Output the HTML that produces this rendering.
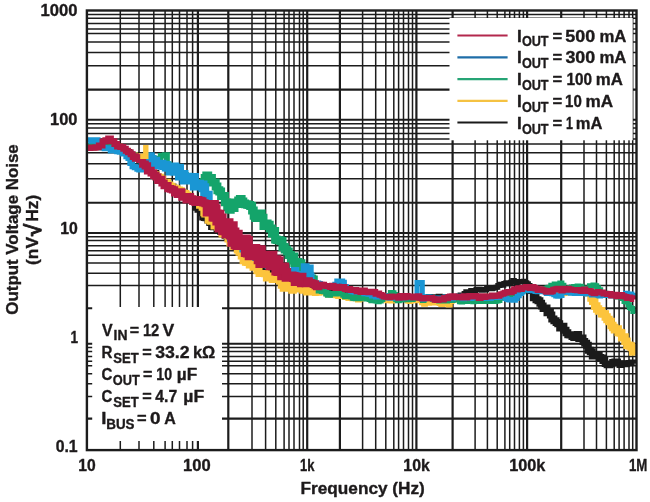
<!DOCTYPE html>
<html><head><meta charset="utf-8"><title>Output Voltage Noise</title>
<style>html,body{margin:0;padding:0;background:#fff}svg{display:block;will-change:transform}text{font-family:"Liberation Sans",Arial,sans-serif;font-weight:bold;fill:#1d1a1b;stroke:#1d1a1b;stroke-width:0.35px;stroke-linejoin:round}</style>
</head><body>
<svg width="650" height="502" viewBox="0 0 650 502">
<rect width="650" height="502" fill="#fff"/>
<g stroke="#1c1c1c" fill="none" shape-rendering="auto">
<line x1="86.9" x2="636.5" y1="14.60" y2="14.60" stroke-width="1.50"/>
<line x1="86.9" x2="636.5" y1="18.30" y2="18.30" stroke-width="1.50"/>
<line x1="86.9" x2="636.5" y1="23.50" y2="23.50" stroke-width="1.50"/>
<line x1="86.9" x2="636.5" y1="29.00" y2="29.00" stroke-width="1.50"/>
<line x1="86.9" x2="636.5" y1="33.60" y2="33.60" stroke-width="1.50"/>
<line x1="86.9" x2="636.5" y1="42.00" y2="42.00" stroke-width="1.50"/>
<line x1="86.9" x2="636.5" y1="52.40" y2="52.40" stroke-width="1.50"/>
<line x1="86.9" x2="636.5" y1="65.80" y2="65.80" stroke-width="1.50"/>
<line x1="86.9" x2="636.5" y1="89.60" y2="89.60" stroke-width="2.10"/>
<line x1="86.9" x2="636.5" y1="119.75" y2="119.75" stroke-width="2.10"/>
<line x1="86.9" x2="636.5" y1="123.80" y2="123.80" stroke-width="1.50"/>
<line x1="86.9" x2="636.5" y1="128.00" y2="128.00" stroke-width="1.50"/>
<line x1="86.9" x2="636.5" y1="133.40" y2="133.40" stroke-width="1.50"/>
<line x1="86.9" x2="636.5" y1="138.90" y2="138.90" stroke-width="1.50"/>
<line x1="86.9" x2="636.5" y1="143.90" y2="143.90" stroke-width="1.50"/>
<line x1="86.9" x2="636.5" y1="152.80" y2="152.80" stroke-width="1.50"/>
<line x1="86.9" x2="636.5" y1="163.80" y2="163.80" stroke-width="1.50"/>
<line x1="86.9" x2="636.5" y1="178.65" y2="178.65" stroke-width="1.50"/>
<line x1="86.9" x2="636.5" y1="202.80" y2="202.80" stroke-width="2.10"/>
<line x1="86.9" x2="636.5" y1="233.00" y2="233.00" stroke-width="2.10"/>
<line x1="86.9" x2="636.5" y1="236.80" y2="236.80" stroke-width="1.50"/>
<line x1="86.9" x2="636.5" y1="240.60" y2="240.60" stroke-width="1.50"/>
<line x1="86.9" x2="636.5" y1="245.80" y2="245.80" stroke-width="1.50"/>
<line x1="86.9" x2="636.5" y1="250.70" y2="250.70" stroke-width="1.50"/>
<line x1="86.9" x2="636.5" y1="255.30" y2="255.30" stroke-width="1.50"/>
<line x1="86.9" x2="636.5" y1="263.10" y2="263.10" stroke-width="1.50"/>
<line x1="86.9" x2="636.5" y1="273.30" y2="273.30" stroke-width="1.50"/>
<line x1="86.9" x2="636.5" y1="285.60" y2="285.60" stroke-width="1.50"/>
<line x1="86.9" x2="636.5" y1="308.20" y2="308.20" stroke-width="2.10"/>
<line x1="86.9" x2="636.5" y1="343.80" y2="343.80" stroke-width="2.10"/>
<line x1="86.9" x2="636.5" y1="347.50" y2="347.50" stroke-width="1.50"/>
<line x1="86.9" x2="636.5" y1="351.40" y2="351.40" stroke-width="1.50"/>
<line x1="86.9" x2="636.5" y1="356.40" y2="356.40" stroke-width="1.50"/>
<line x1="86.9" x2="636.5" y1="361.20" y2="361.20" stroke-width="1.50"/>
<line x1="86.9" x2="636.5" y1="365.80" y2="365.80" stroke-width="1.50"/>
<line x1="86.9" x2="636.5" y1="373.85" y2="373.85" stroke-width="1.50"/>
<line x1="86.9" x2="636.5" y1="383.70" y2="383.70" stroke-width="1.50"/>
<line x1="86.9" x2="636.5" y1="396.40" y2="396.40" stroke-width="1.50"/>
<line x1="86.9" x2="636.5" y1="418.60" y2="418.60" stroke-width="2.10"/>
<line x1="120.30" x2="120.30" y1="10.5" y2="450.1" stroke-width="1.50"/>
<line x1="139.00" x2="139.00" y1="10.5" y2="450.1" stroke-width="1.50"/>
<line x1="153.80" x2="153.80" y1="10.5" y2="450.1" stroke-width="1.50"/>
<line x1="165.10" x2="165.10" y1="10.5" y2="450.1" stroke-width="1.50"/>
<line x1="172.30" x2="172.30" y1="10.5" y2="450.1" stroke-width="1.50"/>
<line x1="179.50" x2="179.50" y1="10.5" y2="450.1" stroke-width="1.50"/>
<line x1="187.00" x2="187.00" y1="10.5" y2="450.1" stroke-width="1.50"/>
<line x1="192.60" x2="192.60" y1="10.5" y2="450.1" stroke-width="1.50"/>
<line x1="197.90" x2="197.90" y1="10.5" y2="450.1" stroke-width="2.20"/>
<line x1="228.30" x2="228.30" y1="10.5" y2="450.1" stroke-width="2.20"/>
<line x1="252.00" x2="252.00" y1="10.5" y2="450.1" stroke-width="1.50"/>
<line x1="265.60" x2="265.60" y1="10.5" y2="450.1" stroke-width="1.50"/>
<line x1="275.80" x2="275.80" y1="10.5" y2="450.1" stroke-width="1.50"/>
<line x1="284.10" x2="284.10" y1="10.5" y2="450.1" stroke-width="1.50"/>
<line x1="289.00" x2="289.00" y1="10.5" y2="450.1" stroke-width="1.50"/>
<line x1="294.00" x2="294.00" y1="10.5" y2="450.1" stroke-width="1.50"/>
<line x1="299.50" x2="299.50" y1="10.5" y2="450.1" stroke-width="1.50"/>
<line x1="303.20" x2="303.20" y1="10.5" y2="450.1" stroke-width="1.50"/>
<line x1="307.20" x2="307.20" y1="10.5" y2="450.1" stroke-width="2.20"/>
<line x1="339.90" x2="339.90" y1="10.5" y2="450.1" stroke-width="2.20"/>
<line x1="362.60" x2="362.60" y1="10.5" y2="450.1" stroke-width="1.50"/>
<line x1="375.70" x2="375.70" y1="10.5" y2="450.1" stroke-width="1.50"/>
<line x1="385.80" x2="385.80" y1="10.5" y2="450.1" stroke-width="1.50"/>
<line x1="393.80" x2="393.80" y1="10.5" y2="450.1" stroke-width="1.50"/>
<line x1="398.60" x2="398.60" y1="10.5" y2="450.1" stroke-width="1.50"/>
<line x1="403.50" x2="403.50" y1="10.5" y2="450.1" stroke-width="1.50"/>
<line x1="408.50" x2="408.50" y1="10.5" y2="450.1" stroke-width="1.50"/>
<line x1="412.50" x2="412.50" y1="10.5" y2="450.1" stroke-width="1.50"/>
<line x1="416.40" x2="416.40" y1="10.5" y2="450.1" stroke-width="2.20"/>
<line x1="452.60" x2="452.60" y1="10.5" y2="450.1" stroke-width="2.20"/>
<line x1="475.10" x2="475.10" y1="10.5" y2="450.1" stroke-width="1.50"/>
<line x1="487.40" x2="487.40" y1="10.5" y2="450.1" stroke-width="1.50"/>
<line x1="497.20" x2="497.20" y1="10.5" y2="450.1" stroke-width="1.50"/>
<line x1="504.90" x2="504.90" y1="10.5" y2="450.1" stroke-width="1.50"/>
<line x1="509.70" x2="509.70" y1="10.5" y2="450.1" stroke-width="1.50"/>
<line x1="514.50" x2="514.50" y1="10.5" y2="450.1" stroke-width="1.50"/>
<line x1="519.40" x2="519.40" y1="10.5" y2="450.1" stroke-width="1.50"/>
<line x1="523.40" x2="523.40" y1="10.5" y2="450.1" stroke-width="1.50"/>
<line x1="527.10" x2="527.10" y1="10.5" y2="450.1" stroke-width="2.20"/>
<line x1="561.20" x2="561.20" y1="10.5" y2="450.1" stroke-width="2.20"/>
<line x1="584.00" x2="584.00" y1="10.5" y2="450.1" stroke-width="1.50"/>
<line x1="596.50" x2="596.50" y1="10.5" y2="450.1" stroke-width="1.50"/>
<line x1="606.40" x2="606.40" y1="10.5" y2="450.1" stroke-width="1.50"/>
<line x1="614.20" x2="614.20" y1="10.5" y2="450.1" stroke-width="1.50"/>
<line x1="619.10" x2="619.10" y1="10.5" y2="450.1" stroke-width="1.50"/>
<line x1="624.10" x2="624.10" y1="10.5" y2="450.1" stroke-width="1.50"/>
<line x1="629.00" x2="629.00" y1="10.5" y2="450.1" stroke-width="1.50"/>
<line x1="632.70" x2="632.70" y1="10.5" y2="450.1" stroke-width="1.50"/>
</g>
<clipPath id="cp"><rect x="88" y="12" width="548.5" height="437"/></clipPath>
<g clip-path="url(#cp)">
<path d="M88.0 146.9H91.2 V147.9H94.2 V147.5H97.4 V146.7H100.5 V147.5H103.9 V146.6H106.7 V146.4H110.2 V147.8H112.7 V149.0H116.4 V148.7H119.6 V147.7H122.1 V149.8H124.5 V150.6H127.3 V151.6H129.5 V153.9H132.1 V156.0H134.5 V157.5H136.9 V158.9H138.9 V161.7H141.7 V163.8H144.1 V164.3H146.1 V165.4H147.9 V168.3H150.1 V170.7H152.2 V173.1H154.8 V172.4H156.8 V176.1H159.0 V178.8H161.2 V177.9H163.6 V181.4H165.6 V181.3H167.7 V185.4H170.2 V185.4H172.2 V186.1H174.0 V189.5H176.0 V190.5H178.2 V190.5H180.6 V191.4H183.0 V192.7H185.2 V194.3H187.2 V198.5H189.8 V198.5H192.4 V202.1H194.6 V208.2H197.0 V210.2H199.7 V213.8H201.7 V218.0H203.4 V218.4H204.9 V218.7H206.9 V220.9H208.8 V223.4H210.6 V227.4H212.4 V227.7H214.6 V227.3H216.1 V230.6H218.2 V230.0H219.8 V232.4H222.0 V232.0H224.2 V236.6H226.2 V237.4H227.7 V237.1H229.9 V239.7H231.9 V241.9H234.0 V245.5H235.7 V246.0H237.7 V247.4H239.3 V250.8H241.5 V253.7H243.1 V256.9H244.8 V255.0H246.4 V257.1H247.9 V257.4H249.6 V260.1H251.2 V260.9H253.3 V264.9H255.3 V266.0H257.2 V265.2H258.7 V265.2H260.9 V269.2H263.1 V268.8H265.1 V271.2H267.1 V272.1H269.3 V272.4H271.2 V275.8H273.4 V277.8H275.4 V279.4H277.6 V279.1H279.6 V281.9H281.7 V281.8H283.8 V284.4H285.7 V284.5H287.5 V284.7H289.4 V283.2H291.3 V286.8H293.5 V287.3H295.2 V287.9H297.2 V287.3H299.3 V286.2H301.3 V285.8H303.3 V287.5H304.9 V288.8H306.7 V289.0H308.9 V288.0H310.4 V288.0H312.3 V287.8H313.9 V289.8H315.9 V289.2H318.1 V288.9H320.0 V288.6H321.8 V290.1H324.0 V290.8H325.8 V290.4H327.5 V289.3H329.3 V290.9H331.4 V291.4H333.6 V290.8H335.2 V291.3H336.9 V291.0H338.7 V292.2H340.5 V292.1H342.6 V293.9H344.4 V292.5H345.9 V294.2H347.4 V294.5H349.3 V293.9H351.3 V293.3H352.9 V294.4H354.4 V295.8H356.0 V294.8H357.5 V295.8H359.3 V296.4H361.2 V297.0H363.4 V296.9H365.1 V296.4H366.6 V295.2H368.5 V296.6H370.0 V296.0H371.8 V296.9H373.6 V297.1H375.7 V296.7H377.8 V297.8H379.3 V298.3H381.3 V296.6H383.1 V297.3H385.3 V297.0H387.2 V298.2H389.3 V298.8H391.1 V298.3H392.7 V298.4H394.8 V298.3H396.8 V297.3H399.0 V298.9H401.2 V298.3H403.3 V297.6H405.5 V298.6H407.2 V297.0H409.0 V297.6H411.1 V297.6H412.5 V298.3H414.0 V298.5H415.6 V297.4H417.7 V296.5H419.2 V297.1H421.3 V298.0H423.2 V298.5H425.1 V298.6H426.6 V296.9H428.5 V296.5H430.5 V297.1H432.4 V297.8H434.3 V296.7H436.0 V297.6H438.2 V296.3H440.3 V297.6H442.2 V297.1H443.8 V296.8H445.6 V296.8H447.1 V297.7H448.9 V296.5H451.0 V296.5H452.9 V296.8H454.4 V296.4H456.1 V297.3H458.3 V295.9H460.1 V295.0H461.9 V295.3H464.1 V293.5H465.8 V291.7H467.7 V292.0H469.3 V291.9H470.7 V290.4H472.4 V291.1H474.1 V290.5H476.0 V289.6H478.0 V289.3H479.9 V289.5H481.5 V290.2H483.3 V289.9H485.1 V289.8H486.6 V288.5H488.6 V288.6H490.5 V288.7H492.4 V288.2H494.0 V287.4H496.1 V287.2H497.8 V285.4H500.0 V284.2H502.2 V285.2H503.8 V283.5H505.8 V282.7H507.3 V283.7H509.1 V283.6H510.7 V282.3H512.7 V280.6H514.3 V281.7H516.4 V282.5H518.0 V281.6H520.0 V281.8H522.0 V281.4H523.5 V281.3H525.0 V282.8H526.8 V283.7H528.4 V285.6H530.0 V291.6H532.3 V298.8H533.8 V297.2" stroke="#1a1a1a" stroke-width="5.0" fill="none" stroke-linejoin="miter" stroke-linecap="butt"/>
<path d="M533.8 297.2H536.0 V299.8H538.0 V300.8H539.9 V303.3H541.6 V306.1H543.1 V308.6H545.2 V308.1H547.0 V312.7H548.8 V312.1H550.4 V315.0H551.8 V319.1H553.9 V320.8H556.1 V322.4H557.8 V323.8H559.7 V327.9H561.8 V326.3H563.9 V330.3H566.0 V332.8H567.8 V334.7H569.9 V335.1H572.0 V336.5H573.8 V337.4H575.3 V335.9H577.1 V334.4H578.8 V338.4H580.7 V338.1H583.0 V341.6H584.7 V343.3H586.6 V345.2H588.3 V350.2H590.3 V351.8H592.3 V355.9H593.8 V355.6H595.8 V354.9H597.6 V354.6H599.2 V357.6H600.7 V358.1H602.9 V360.6H604.7 V363.9" stroke="#1a1a1a" stroke-width="7.0" fill="none" stroke-linejoin="miter" stroke-linecap="butt"/>
<path d="M602.9 360.6H604.7 V363.9H606.6 V365.3H608.6 V365.3H610.1 V364.5H612.2 V361.9H614.4 V361.6H616.2 V361.5H618.0 V363.3H619.5 V365.1H621.3 V364.2H623.2 V363.3H624.9 V364.3H626.8 V363.2H628.8 V363.1H630.2 V362.9H631.7 V362.6H633.8 V363.5" stroke="#1a1a1a" stroke-width="6.0" fill="none" stroke-linejoin="miter" stroke-linecap="butt"/>
<path d="M88.0 146.9H91.3 V147.4H93.9 V146.3H96.8 V146.5H100.3 V147.6H103.5 V147.7H106.8 V146.8H109.8 V146.7H113.4 V146.4H116.9 V146.4H120.2 V147.8H123.2 V151.0H125.6 V150.7H128.3 V152.9H130.1 V155.5H132.8 V155.1H135.0 V155.8H137.1 V157.4H139.0 V158.4H140.8 V156.9H143.4 V156.7H145.5 V158.7H147.8 V159.5H149.6 V168.4H152.3 V173.5H154.7 V173.9H156.8 V176.1H159.2 V176.4H161.2 V178.3H163.5 V181.7H165.8 V181.4H168.3 V184.2H170.6 V185.5H172.8 V187.3H175.3 V187.9H177.6 V189.2H180.1 V190.0H182.1 V192.2H184.5 V192.7H186.7 V194.4H188.7 V196.6H191.5 V198.5H194.2 V199.0H196.8 V201.0H198.8 V205.9H201.4 V208.1H203.1 V213.6H204.8 V214.0" stroke="#fcc43c" stroke-width="5.5" fill="none" stroke-linejoin="miter" stroke-linecap="butt"/>
<path d="M203.1 213.6H204.8 V214.0H206.3 V213.8H208.2 V220.3H210.5 V221.2H211.9 V221.2H214.0 V225.9H216.0 V224.9H217.8 V227.4H219.8 V228.2H222.0 V233.9H223.5 V233.2H225.7 V235.0H227.9 V238.9H229.9 V242.9H231.5 V242.8H233.2 V246.6H235.2 V246.3H237.3 V249.9H239.0 V252.3H241.2 V255.9H243.1 V260.7H245.4 V262.2H247.1 V262.5H249.3 V265.1H251.2 V264.3H253.0 V267.3H254.8 V265.0H256.9 V270.7H259.0 V273.6H261.1 V273.5H263.2 V273.4H264.7 V273.7H266.4 V277.9H268.4 V277.7H270.4 V275.9H272.2 V279.5H274.0 V278.6H275.8 V279.5H277.8 V279.5H279.3 V281.1H281.3 V285.2H283.2 V288.3H285.0 V284.2H286.8 V285.7H288.4 V287.8H290.1 V286.1H291.8 V290.2H293.3 V288.1H294.9 V286.9H296.7 V286.9H298.9 V289.1H300.9 V288.0H302.7 V290.3H304.9 V289.3H306.7 V292.1H308.8 V290.3" stroke="#fcc43c" stroke-width="7.0" fill="none" stroke-linejoin="miter" stroke-linecap="butt"/>
<path d="M308.8 290.3H310.7 V292.2H312.4 V292.5H314.4 V293.6H316.3 V293.1H318.0 V293.2H319.7 V292.8H321.4 V292.3H323.0 V292.1H324.9 V292.3H326.4 V293.9H328.0 V294.9H329.9 V294.1H332.1 V295.4H333.8 V294.0H335.8 V295.8H337.7 V296.4H339.5 V296.4H341.1 V296.0H342.9 V296.1H344.6 V297.5H346.2 V296.5H347.9 V298.4H349.7 V296.9H351.8 V298.8H353.9 V298.4H356.0 V298.4H357.5 V300.0H359.6 V299.0H361.8 V298.1H363.5 V297.8H365.1 V298.1H367.1 V298.6H368.7 V298.4H370.4 V300.1H372.3 V298.7H374.3 V299.3H376.1 V299.5H378.1 V300.3H379.9 V300.1H381.7 V300.0H383.5 V299.4H385.3 V300.0H387.0 V300.7H388.8 V300.8H390.8 V301.0H392.8 V299.8H394.6 V299.9H396.7 V300.5H398.2 V298.7H399.7 V298.2H401.2 V297.9H402.9 V298.2H404.9 V299.6H407.1 V301.0H409.1 V301.4H410.6 V299.8H412.8 V300.0H414.4 V300.8H416.2 V300.6H417.9 V299.8H419.4 V300.6H421.6 V302.7H423.6 V304.2H425.4 V302.9H427.6 V303.2H429.5 V301.8H431.2 V302.6H433.2 V303.0H435.3 V300.8H437.0 V302.2H439.2 V303.6H440.8 V304.4H442.7 V303.9H444.3 V303.9H446.3 V303.4H448.2 V305.1H450.2 V301.6H452.0 V298.9H454.0 V299.9H455.6 V299.9H457.5 V299.9H459.3 V299.2H461.0 V300.6H462.7 V299.7H464.5 V298.6H466.3 V298.3H468.0 V298.5H469.7 V299.9H471.4 V298.7H473.4 V298.3H475.2 V298.7H476.7 V298.7H478.2 V297.5H480.3 V298.8H482.3 V297.0H484.1 V296.6H486.2 V296.2H487.8 V296.9H489.8 V296.9H491.6 V297.6H493.4 V297.6H495.2 V296.3H496.9 V296.4H499.0 V295.1H500.8 V295.7H502.7 V295.6H504.6 V295.5H506.3 V294.4H507.8 V295.3H509.9 V294.2H512.1 V294.9H513.7 V294.9H515.5 V293.4H517.1 V293.1H518.6 V292.0H520.1 V292.1H521.7 V290.6H523.8 V289.6H525.6 V289.0H527.8 V287.3H529.5 V289.0H531.6 V289.9H533.5 V288.9H535.1 V290.1H537.2 V289.8H539.2 V289.2H541.1 V290.8H542.6 V290.7H544.2 V291.3H546.3 V291.3H548.1 V289.9H550.0 V290.5H551.7 V290.2H553.9 V291.4H555.8 V292.7H558.0 V292.6H559.9 V293.4H561.6 V293.7H563.1 V293.5H564.9 V292.9H567.2 V291.7H569.0 V292.7H571.0 V292.3H573.1 V292.5H575.2 V292.4H576.9 V291.5H578.5 V290.7H579.9 V292.5H581.5 V292.1H583.0 V292.8H584.9 V291.1H587.0 V293.9H589.2 V293.9" stroke="#fcc43c" stroke-width="5.0" fill="none" stroke-linejoin="miter" stroke-linecap="butt"/>
<path d="M589.2 293.9H591.0 V298.0H592.7 V301.3H594.7 V306.0H596.8 V308.9H598.5 V311.1H600.3 V310.8H601.7 V313.8H603.4 V314.0H605.3 V317.0H607.0 V319.6H608.9 V321.6H611.1 V325.6H612.8 V327.6H614.5 V329.8H616.0 V329.0H618.2 V332.4H620.2 V333.1H621.7 V337.8H623.2 V337.0H625.0 V341.3H627.0 V345.3H629.1 V346.0H631.2 V347.6H632.7 V352.1H634.9 V355.0" stroke="#fcc43c" stroke-width="7.5" fill="none" stroke-linejoin="miter" stroke-linecap="butt"/>
<path d="M88.0 145.5H91.3 V146.2H94.9 V145.4H97.6 V145.1H100.3 V146.3H102.9 V146.4H105.6 V146.2H108.5 V147.6H111.8 V146.3H114.5 V146.4H118.1 V148.3H121.6 V150.5H125.0 V152.9H128.5 V153.2H131.1 V154.8H133.6 V156.5H135.8 V157.2H137.9 V158.2H139.8 V160.6H142.4 V162.5H144.8 V162.3H147.3 V161.5H149.8 V162.8H151.7 V162.8H154.0 V163.5H156.2 V163.1H158.3 V158.5H160.6 V155.8H162.6 V155.6H164.7 V155.1H167.1 V164.3H169.2 V167.8H171.9 V167.0H173.8 V170.1H176.4 V171.6H178.3 V171.9H181.0 V175.0H183.5 V174.7H186.1 V176.4H188.6 V177.1H191.3 V180.5H193.8 V181.0H196.2 V183.0H198.5 V182.4H201.0 V182.1H202.7 V180.8H204.7 V178.1" stroke="#14a46a" stroke-width="5.5" fill="none" stroke-linejoin="miter" stroke-linecap="butt"/>
<path d="M202.7 180.8H204.7 V178.1H206.3 V175.5H208.2 V178.3H210.1 V177.9H211.9 V182.5H213.4 V182.5H215.7 V186.5H217.4 V190.3H219.3 V191.4H221.1 V195.9H223.2 V195.9H224.9 V202.3H227.2 V207.3H229.0 V209.7H230.7 V203.2H232.5 V208.1H234.5 V202.6H236.5 V204.1H238.2 V200.4H239.9 V199.0H241.6 V201.5H243.3 V203.6H245.1 V204.2H247.1 V204.8H248.6 V204.9H250.2 V206.1H252.1 V210.4H253.7 V215.7H255.3 V218.1H256.8 V217.4H258.4 V214.1H260.2 V213.4H261.7 V217.8H263.5 V226.1H265.8 V223.6H267.6 V224.7H269.7 V228.5H271.9 V233.5H273.4 V231.1H275.1 V239.5H276.6 V239.9H278.4 V240.3H280.5 V241.1H282.5 V247.1H284.7 V249.5H286.9 V251.4H288.8 V255.1H290.9 V260.6H292.4 V256.5H294.3 V263.1H296.2 V262.1H298.4 V263.9H299.9 V263.2H301.4 V270.1H302.9 V272.6H305.0 V276.6H307.1 V274.7H309.1 V277.9" stroke="#14a46a" stroke-width="8.0" fill="none" stroke-linejoin="miter" stroke-linecap="butt"/>
<path d="M309.1 277.9H311.1 V277.5H313.2 V278.4H314.8 V284.2H316.7 V285.2H318.7 V290.6H320.2 V290.2H321.8 V291.0H324.0 V291.3H326.2 V293.4H327.9 V294.7H330.0 V293.8" stroke="#14a46a" stroke-width="6.0" fill="none" stroke-linejoin="miter" stroke-linecap="butt"/>
<path d="M327.9 294.7H330.0 V293.8H331.6 V293.6H333.8 V294.1H335.4 V293.9H337.2 V293.5H339.1 V293.2H341.3 V293.7H342.8 V295.3H344.5 V296.8H346.3 V296.4H348.4 V295.6H350.5 V296.9H352.3 V298.3H353.7 V298.6H355.3 V298.8H356.8 V296.6H358.7 V298.8H360.3 V298.3H362.3 V297.6H364.1 V296.9H365.9 V299.1H367.6 V298.3H369.1 V299.6H370.9 V300.8H373.0 V299.0H375.1 V301.1H377.2 V301.7H379.2 V301.0H381.2 V299.6H382.9 V297.4H384.9 V297.4H386.4 V297.2H388.3 V295.5H390.4 V292.6H392.1 V292.8H394.0 V294.5H395.7 V299.8H397.5 V300.8H399.3 V300.1H401.4 V299.9H403.2 V298.1H405.0 V298.6H407.1 V299.8H409.3 V299.2H411.1 V299.4H413.2 V298.1H414.8 V297.9H416.5 V298.3H418.7 V298.2H420.9 V298.4H422.5 V300.5H424.0 V298.6H425.6 V298.0H427.3 V298.2H428.9 V297.7H430.9 V297.7H432.5 V299.3H434.7 V300.1H436.7 V300.5H438.8 V301.1H440.3 V299.1H442.3 V299.9H444.1 V300.9H445.7 V301.0H447.5 V300.3H449.1 V299.8H451.1 V300.5H453.2 V300.0H455.3 V299.4H457.2 V299.4H459.4 V301.8H461.0 V302.1H462.6 V300.8H464.1 V300.7H465.7 V301.5H467.6 V300.8H469.6 V300.1H471.3 V300.3H472.7 V301.7H474.2 V300.0H476.3 V301.4H478.1 V300.7H479.7 V299.3H481.6 V299.6H483.1 V301.5H484.6 V300.5H486.6 V301.3H488.1 V301.5H490.0 V301.2H492.2 V301.6H494.2 V301.6H496.0 V301.0H498.1 V300.6H499.9 V298.3H501.9 V297.9H503.7 V297.2H505.6 V296.9H507.7 V296.7H509.6 V296.8H511.4 V295.6H513.5 V295.3H515.5 V295.1H517.4 V293.5H519.0 V291.8H520.8 V291.4H523.0 V289.4H524.7 V290.2H526.5 V290.2H528.1 V290.1H529.8 V289.7H531.3 V289.1H533.4 V290.0H535.3 V289.4H536.8 V290.1H538.6 V290.4H540.5 V289.7H542.7 V288.9H544.9 V288.6H547.1 V287.7H548.9 V287.2H550.8 V285.3H552.3 V285.7H554.2 V284.1H555.8 V284.1H558.0 V285.1H559.8 V283.0H561.9 V285.2H563.9 V288.4H566.1 V288.3H568.2 V288.4H569.7 V287.6H571.4 V287.0H573.6 V286.6H575.4 V286.5H577.1 V286.1H578.6 V286.6H580.1 V286.3H581.7 V287.9H583.1 V288.0H585.1 V291.1H587.3 V289.3H589.5 V285.7H591.5 V286.1H593.0 V285.1H594.7 V285.8H596.7 V287.8H598.6 V289.7H600.7 V292.9H602.3 V293.7H603.9 V293.3H605.7 V294.7H607.2 V294.5H608.9 V295.2H611.0 V294.7H613.0 V295.4H614.6 V295.3H616.5 V296.9H618.4 V295.6H620.5 V297.4H622.3 V298.6H624.0 V301.5H625.7 V302.1H627.9 V304.8H629.4 V307.6H630.9 V308.6H632.8 V311.6H635.0 V313.3" stroke="#14a46a" stroke-width="5.0" fill="none" stroke-linejoin="miter" stroke-linecap="butt"/>
<path d="M88.0 140.1H91.3 V140.9H95.0 V140.0H97.8 V145.1H101.1 V147.8H104.4 V148.4H107.8 V148.1H110.5 V150.8H113.4 V150.0H116.9 V151.6H119.5 V152.1H122.8 V153.7H126.1 V156.4H128.2 V158.2H130.1 V163.3H132.3 V166.5H134.5 V167.4H137.1 V168.9H139.0 V169.7H141.4 V163.9H143.2 V164.0H145.5 V158.8" stroke="#1a96d4" stroke-width="5.5" fill="none" stroke-linejoin="miter" stroke-linecap="butt"/>
<path d="M145.5 158.8H147.7 V156.7H150.2 V159.4H152.1 V163.7H154.0 V161.3H155.7 V164.5H157.6 V164.2H159.5 V164.2H161.9 V165.2H164.1 V165.6H166.3 V167.1H168.2 V167.2H170.2 V171.1H172.8 V166.9H174.8 V171.2H177.1 V168.2H179.5 V176.0H181.7 V174.6H184.0 V179.9H186.1 V177.2H188.0 V179.8H190.2 V178.6H192.4 V177.4H194.4 V185.9H196.8 V184.2H199.5 V185.9H201.5 V185.0H203.0 V187.8H204.7 V195.9H206.3 V195.3H208.2 V203.4" stroke="#1a96d4" stroke-width="9.0" fill="none" stroke-linejoin="miter" stroke-linecap="butt"/>
<path d="M206.3 195.3H208.2 V203.4H209.9 V207.0H211.7 V209.2H213.6 V215.3H215.6 V215.4H217.8 V215.7H219.5 V220.4H221.4 V221.8H223.1 V224.7H225.0 V225.9H227.2 V231.8H228.9 V235.1H230.5 V238.3H232.5 V241.4H234.1 V243.7H236.0 V244.6H238.1 V244.7H239.8 V246.2H241.3 V245.8H242.9 V249.1H244.5 V250.2H246.1 V250.9H248.1 V250.1H250.3 V252.8H252.1 V250.7H253.9 V252.1H255.7 V257.3H257.9 V254.6H259.9 V259.9H261.7 V257.1H263.9 V259.1H266.1 V263.2H268.2 V265.5H269.7 V265.8H271.4 V262.6H273.2 V265.0H274.6 V265.4H276.7 V266.7H278.5 V266.5H280.8 V266.9H282.8 V270.0H284.2 V273.4H285.8 V275.0H288.0 V275.7H290.2 V273.5H292.0 V272.5H294.2 V270.6H295.7 V275.8H297.8 V276.1H300.0 V275.3H302.1 V274.5H304.3 V266.7H306.1 V268.2H308.2 V268.1H310.2 V275.3" stroke="#1a96d4" stroke-width="7.0" fill="none" stroke-linejoin="miter" stroke-linecap="butt"/>
<path d="M308.2 268.1H310.2 V275.3H312.0 V282.5H313.4 V284.6H315.3 V283.8H317.1 V283.1H318.7 V283.6H320.4 V285.7H322.0 V284.4H324.2 V285.7H325.6 V286.6H327.6 V287.1H329.7 V286.5H331.3 V287.2H333.3 V287.3H334.8 V284.3H336.8 V281.1H338.8 V281.3H340.8 V281.0H342.7 V282.3H344.4 V286.6H346.3 V289.1H348.5 V289.9H350.6 V291.2H352.2 V291.8H354.2 V292.3H356.1 V292.3H358.4 V292.0H360.4 V291.8H362.3 V292.0H363.8 V293.7H366.0 V293.7H367.8 V294.3H369.7 V294.4H371.4 V296.0H373.3 V295.3H375.4 V297.1H377.2 V295.1H378.9 V297.1H380.5 V296.0H382.6 V295.7H384.7 V296.0H386.4 V297.1H388.0 V298.0H389.8 V298.3H391.8 V296.7H393.9 V298.3H395.6 V298.2H397.2 V298.1H399.2 V297.7H401.1 V296.9H403.2 V298.0H405.3 V296.9H407.4 V296.6H409.3 V296.8H411.5 V296.6H413.3 V297.5H415.0 V296.7H417.0 V282.5H418.7 V282.5H420.5 V282.5H422.3 V299.2H424.3 V298.7H425.8 V298.1H427.3 V296.8H429.0 V296.9H430.5 V297.7H432.6 V299.0H434.8 V298.1H436.4 V299.2H438.2 V297.9H440.3 V298.0H442.5 V298.5H444.7 V297.1H446.9 V297.7H448.9 V297.3H450.5 V297.1H452.1 V298.8H453.6 V297.4H455.6 V296.9H457.2 V296.9H458.8 V296.2H460.9 V297.6H462.6 V298.7H464.5 V297.2H466.7 V296.7H468.8 V298.1H470.2 V298.6H472.0 V297.8H474.2 V297.4H475.8 V296.2H478.0 V296.9H480.0 V297.5H482.2 V298.4H484.4 V297.6H486.6 V296.7H488.2 V297.3H489.6 V298.4H491.3 V297.2H493.0 V296.6H494.9 V297.5H496.3 V296.5H498.0 V297.6H499.8 V296.5H502.0 V295.9H503.7 V296.3H505.3 V298.5H507.0 V299.6H508.9 V300.1H511.0 V299.4H513.2 V300.2H515.4 V298.5H517.2 V295.7H519.3 V293.6H521.4 V291.9H523.1 V289.9H525.1 V289.1H527.0 V289.3H529.1 V290.7H531.1 V289.6H533.3 V289.2H535.0 V291.6H537.2 V291.8H539.3 V291.2H540.8 V291.4H543.0 V290.9H544.7 V292.1H546.3 V293.4H547.8 V292.0H550.0 V291.6H551.7 V293.7H553.8 V294.8H555.7 V295.9H557.7 V296.2H559.1 V295.5H560.6 V295.4H562.0 V292.3H563.8 V292.1H565.3 V292.5H566.8 V291.9H568.3 V292.8H570.4 V293.3H572.1 V292.2H574.3 V293.4H576.5 V292.9H578.7 V293.5H580.8 V293.4H582.8 V293.4H584.5 V293.4H586.0 V294.0H587.7 V293.0H589.8 V293.7H591.5 V294.9H593.7 V294.2H595.5 V293.0H597.3 V295.2H599.1 V295.9H600.6 V293.8H602.1 V293.4H604.1 V295.6H606.2 V295.4H607.9 V294.9H609.5 V294.8H611.0 V295.9H612.9 V295.3H615.0 V295.0H617.2 V295.4H619.1 V295.0H621.1 V295.3H623.3 V294.4H625.5 V293.2H627.7 V294.7H629.7 V294.0H631.8 V295.2H633.5 V297.3" stroke="#1a96d4" stroke-width="5.0" fill="none" stroke-linejoin="miter" stroke-linecap="butt"/>
<path d="M88.0 148.1H90.4 V147.6H93.0 V147.8H95.5 V147.2H98.8 V145.5H102.5 V141.6H105.4 V140.2H108.2 V138.6H110.9 V141.3H114.4 V144.0H117.1 V146.6H120.2 V147.0H123.3 V148.8H125.8 V150.8H127.9 V152.3H130.6 V154.3H132.7 V156.9H135.5 V158.1" stroke="#b21a45" stroke-width="6.0" fill="none" stroke-linejoin="miter" stroke-linecap="butt"/>
<path d="M132.7 156.9H135.5 V158.1H138.2 V157.9H140.1 V159.4H142.7 V164.1H145.2 V165.9H147.5 V171.0H149.3 V170.4H151.1 V172.8H153.7 V175.4H155.9 V177.0H157.8 V180.5H159.9 V179.3H162.0 V183.0H164.1 V185.7H166.2 V185.5H168.0 V188.7H170.5 V189.1H172.4 V189.9H174.6 V192.8H177.2 V194.4H179.3 V191.9H181.9 V197.1H183.8 V196.9H186.1 V200.0H187.9 V196.5H190.5 V198.9H192.7 V201.3H195.0 V202.3H197.1 V199.7H198.8 V200.3H201.2 V200.9H202.9 V202.9H205.0 V203.6H206.6 V206.0" stroke="#b21a45" stroke-width="7.2" fill="none" stroke-linejoin="miter" stroke-linecap="butt"/>
<path d="M206.6 206.0H208.7 V210.6H210.9 V206.0H212.9 V210.3H214.6 V215.4H216.2 V215.7H218.4 V219.6H220.6 V226.6H222.3 V224.8H224.2 V229.3H226.0 V224.2H227.5 V232.2H229.6 V227.2H231.7 V233.5H233.4 V240.7H234.9 V235.8H236.7 V243.3H238.5 V244.0H240.7 V244.0H242.8 V240.6H244.9 V242.1H246.8 V251.0H248.8 V251.5H250.7 V254.3H252.4 V250.0H254.3 V252.7H255.9 V254.1H257.7 V251.3H259.7 V258.3H261.4 V262.0H263.6 V262.0H265.4 V258.4H267.0 V258.0H269.2 V256.7H271.4 V264.3H273.5 V261.3H275.4 V262.4H277.4 V269.6H279.4 V270.1H281.6 V268.4H283.2 V274.2H284.6 V272.7" stroke="#b21a45" stroke-width="12.0" fill="none" stroke-linejoin="miter" stroke-linecap="butt"/>
<path d="M283.2 274.2H284.6 V272.7H286.4 V276.9H288.2 V276.3H290.0 V276.3H291.8 V276.7H293.8 V277.2H295.5 V281.2H297.8 V278.7H300.0 V277.4H301.7 V282.6H303.3 V283.0" stroke="#b21a45" stroke-width="9.5" fill="none" stroke-linejoin="miter" stroke-linecap="butt"/>
<path d="M303.3 283.0H305.5 V283.4H307.3 V281.0H309.1 V282.8H311.2 V283.5H313.3 V284.1H315.3 V285.5H316.8 V286.6H318.6 V285.4H320.9 V285.5" stroke="#b21a45" stroke-width="7.5" fill="none" stroke-linejoin="miter" stroke-linecap="butt"/>
<path d="M320.9 285.5H322.7 V284.5H324.3 V285.9H326.2 V286.2H328.2 V286.4H329.9 V287.2H331.7 V285.6H333.8 V287.4H335.4 V288.1H337.4 V286.6H339.3 V288.3H340.8 V288.1H342.5 V286.7H344.7 V289.2H346.7 V289.6H348.4 V288.9H350.4 V290.2H352.4 V289.8H354.3 V289.8H356.4 V291.4H358.5 V290.4H360.2 V292.2H362.0 V291.9H363.5 V290.4H365.1 V291.7H366.7 V292.1H368.2 V292.5H370.2 V291.5H371.9 V291.5H373.7 V291.8H375.4 V294.0H377.6 V293.3H379.4 V294.9H381.6 V295.6H383.5 V296.8H385.6 V297.0H387.5 V297.4H389.0 V297.5H390.6 V296.4H392.4 V296.6H394.3 V297.0H396.0 V296.5H398.0 V298.0H399.7 V295.7H401.8 V297.6H404.0 V297.4H405.7 V295.7H407.9 V296.3H409.5 V297.0H410.9 V296.5H412.9 V297.6H414.6 V296.2H416.3 V297.5H417.8 V296.0H419.5 V297.9H421.7 V298.8H423.2 V297.8H424.7 V297.8H426.8 V297.7H428.8 V298.4H430.7 V297.9H432.3 V298.8H434.5 V299.9H436.7 V300.1H438.7 V299.0H440.2 V299.4H441.8 V299.8H444.0 V297.9H446.1 V298.5H448.2 V296.7H449.9 V296.2H452.1 V296.1H453.9 V297.4H455.7 V297.3H457.6 V296.6H459.8 V297.2H461.8 V297.6H463.8 V296.1H466.0 V297.8H467.5 V296.7H469.1 V295.7H471.0 V296.3H472.5 V296.6H474.5 V295.7H476.5 V296.8H478.6 V298.1H480.8 V296.6H482.3 V296.0H483.8 V297.2H485.6 V296.7H487.6 V296.2H489.9 V296.5H491.8 V295.2H493.4 V296.2H495.2 V295.9H497.4 V295.9H499.5 V294.7H501.0 V294.0H503.2 V293.4H504.7 V292.6H506.9 V292.0H508.4 V291.9H509.9 V292.4H511.9 V291.1H513.9 V289.1H516.0 V289.7H518.1 V288.0H520.3 V289.3H522.1 V287.5H524.0 V287.6H525.8 V286.8H528.0 V286.9H529.8 V288.3H531.8 V286.9H533.7 V287.7H535.4 V288.6H537.5 V290.1H539.1 V289.0H540.7 V289.6H542.6 V290.2H544.3 V290.6H546.0 V291.9H547.7 V290.8H549.6 V291.9H551.4 V291.5H553.0 V289.6H555.3 V289.0H557.3 V288.6H559.0 V289.6H561.2 V290.6H562.9 V288.6H564.9 V289.9H567.1 V288.5H569.1 V289.2H571.2 V289.9H573.3 V290.0H574.8 V290.3H576.7 V290.5H578.3 V289.7H580.4 V290.9H582.4 V291.3H583.8 V289.4H585.5 V291.1H587.5 V290.7H589.7 V291.1H591.2 V292.5H593.3 V293.5H595.4 V292.8H597.5 V291.9H599.0 V292.2H601.2 V292.2H603.2 V293.7H604.8 V293.5H606.8 V294.3H609.0 V293.7H610.9 V295.8H612.5 V295.0H614.4 V294.6H616.4 V296.5H618.1 V295.2H620.2 V294.8H622.3 V296.1H624.4 V296.7H626.7 V298.1H628.6 V297.3H630.5 V298.0H632.5 V299.1H634.1 V299.4" stroke="#b21a45" stroke-width="5.6" fill="none" stroke-linejoin="miter" stroke-linecap="butt"/>
<path d="M145.8 145V159M140.2 156.3H148.5" stroke="#fcc43c" stroke-width="5.4" fill="none"/>
</g>
<rect x="86.9" y="10.5" width="549.6" height="439.6" fill="none" stroke="#1c1c1c" stroke-width="2.4"/>
<rect x="449.5" y="18" width="183.2" height="122.3" fill="#fff"/>
<line x1="457.4" x2="507.6" y1="35.5" y2="35.5" stroke="#b3284d" stroke-width="2.2"/>
<text x="517.08" y="41.5" font-size="17.0" textLength="4.79" lengthAdjust="spacingAndGlyphs">I</text>
<text x="521.89" y="45.9" font-size="14.0" textLength="26.74" lengthAdjust="spacingAndGlyphs">OUT</text>
<text x="552.43" y="41.5" font-size="16.0" textLength="9.71" lengthAdjust="spacingAndGlyphs">=</text>
<text x="565.36" y="41.5" font-size="16.0" textLength="29.92" lengthAdjust="spacingAndGlyphs">500</text>
<text x="599.41" y="41.5" font-size="16.0" textLength="26.93" lengthAdjust="spacingAndGlyphs">mA</text>
<line x1="457.4" x2="507.6" y1="57.3" y2="57.3" stroke="#1f6ea8" stroke-width="2.2"/>
<text x="517.08" y="63.4" font-size="17.0" textLength="4.79" lengthAdjust="spacingAndGlyphs">I</text>
<text x="521.89" y="67.8" font-size="14.0" textLength="26.74" lengthAdjust="spacingAndGlyphs">OUT</text>
<text x="552.43" y="63.4" font-size="16.0" textLength="9.71" lengthAdjust="spacingAndGlyphs">=</text>
<text x="565.45" y="63.4" font-size="16.0" textLength="29.82" lengthAdjust="spacingAndGlyphs">300</text>
<text x="599.41" y="63.4" font-size="16.0" textLength="26.93" lengthAdjust="spacingAndGlyphs">mA</text>
<line x1="457.4" x2="507.6" y1="79.1" y2="79.1" stroke="#26a475" stroke-width="2.2"/>
<text x="517.08" y="85.3" font-size="17.0" textLength="4.79" lengthAdjust="spacingAndGlyphs">I</text>
<text x="521.89" y="89.7" font-size="14.0" textLength="26.74" lengthAdjust="spacingAndGlyphs">OUT</text>
<text x="552.43" y="85.3" font-size="16.0" textLength="9.71" lengthAdjust="spacingAndGlyphs">=</text>
<text x="566.38" y="85.3" font-size="16.0" textLength="25.59" lengthAdjust="spacingAndGlyphs">100</text>
<text x="595.81" y="85.3" font-size="16.0" textLength="27.03" lengthAdjust="spacingAndGlyphs">mA</text>
<line x1="457.4" x2="507.6" y1="100.8" y2="100.8" stroke="#f5c242" stroke-width="2.2"/>
<text x="517.08" y="107.2" font-size="17.0" textLength="4.79" lengthAdjust="spacingAndGlyphs">I</text>
<text x="521.89" y="111.6" font-size="14.0" textLength="26.74" lengthAdjust="spacingAndGlyphs">OUT</text>
<text x="552.43" y="107.2" font-size="16.0" textLength="9.71" lengthAdjust="spacingAndGlyphs">=</text>
<text x="565.10" y="107.2" font-size="16.0" textLength="16.69" lengthAdjust="spacingAndGlyphs">10</text>
<text x="585.59" y="107.2" font-size="16.0" textLength="27.56" lengthAdjust="spacingAndGlyphs">mA</text>
<line x1="457.4" x2="507.6" y1="122.5" y2="122.5" stroke="#1a1a1a" stroke-width="2.2"/>
<text x="517.08" y="129.1" font-size="17.0" textLength="4.79" lengthAdjust="spacingAndGlyphs">I</text>
<text x="521.89" y="133.5" font-size="14.0" textLength="26.74" lengthAdjust="spacingAndGlyphs">OUT</text>
<text x="552.43" y="129.1" font-size="16.0" textLength="9.71" lengthAdjust="spacingAndGlyphs">=</text>
<text x="566.12" y="129.1" font-size="16.0" textLength="6.94" lengthAdjust="spacingAndGlyphs">1</text>
<text x="575.73" y="129.1" font-size="16.0" textLength="26.61" lengthAdjust="spacingAndGlyphs">mA</text>
<rect x="92.2" y="307" width="129.8" height="134" fill="#fff"/>
<text x="102.12" y="335.8" font-size="16.0" textLength="10.64" lengthAdjust="spacingAndGlyphs">V</text>
<text x="113.60" y="340.3" font-size="14.0" textLength="13.91" lengthAdjust="spacingAndGlyphs">IN</text>
<text x="129.76" y="335.8" font-size="16.0" textLength="9.37" lengthAdjust="spacingAndGlyphs">=</text>
<text x="142.91" y="335.8" font-size="16.0" textLength="16.41" lengthAdjust="spacingAndGlyphs">12</text>
<text x="162.41" y="335.8" font-size="16.0" textLength="11.71" lengthAdjust="spacingAndGlyphs">V</text>
<text x="101.42" y="358.1" font-size="16.0" textLength="10.92" lengthAdjust="spacingAndGlyphs">R</text>
<text x="113.21" y="362.6" font-size="14.0" textLength="25.42" lengthAdjust="spacingAndGlyphs">SET</text>
<text x="142.35" y="358.1" font-size="16.0" textLength="9.48" lengthAdjust="spacingAndGlyphs">=</text>
<text x="155.16" y="358.1" font-size="16.0" textLength="34.37" lengthAdjust="spacingAndGlyphs">33.2</text>
<text x="192.95" y="358.1" font-size="16.0" textLength="22.36" lengthAdjust="spacingAndGlyphs">kΩ</text>
<text x="101.60" y="380.0" font-size="16.0" textLength="10.81" lengthAdjust="spacingAndGlyphs">C</text>
<text x="112.79" y="384.5" font-size="14.0" textLength="26.95" lengthAdjust="spacingAndGlyphs">OUT</text>
<text x="142.96" y="380.0" font-size="16.0" textLength="9.37" lengthAdjust="spacingAndGlyphs">=</text>
<text x="156.25" y="380.0" font-size="16.0" textLength="15.75" lengthAdjust="spacingAndGlyphs">10</text>
<text x="176.79" y="380.0" font-size="16.0" textLength="20.35" lengthAdjust="spacingAndGlyphs">µF</text>
<text x="101.60" y="402.3" font-size="16.0" textLength="10.81" lengthAdjust="spacingAndGlyphs">C</text>
<text x="113.21" y="406.8" font-size="14.0" textLength="25.42" lengthAdjust="spacingAndGlyphs">SET</text>
<text x="142.35" y="402.3" font-size="16.0" textLength="9.48" lengthAdjust="spacingAndGlyphs">=</text>
<text x="155.36" y="402.3" font-size="16.0" textLength="21.87" lengthAdjust="spacingAndGlyphs">4.7</text>
<text x="183.26" y="402.3" font-size="16.0" textLength="20.90" lengthAdjust="spacingAndGlyphs">µF</text>
<text x="101.39" y="424.0" font-size="16.0" textLength="5.17" lengthAdjust="spacingAndGlyphs">I</text>
<text x="106.23" y="428.5" font-size="14.0" textLength="28.26" lengthAdjust="spacingAndGlyphs">BUS</text>
<text x="137.14" y="424.0" font-size="16.0" textLength="9.60" lengthAdjust="spacingAndGlyphs">=</text>
<text x="149.94" y="424.0" font-size="16.0" textLength="10.54" lengthAdjust="spacingAndGlyphs">0</text>
<text x="164.30" y="424.0" font-size="16.0" textLength="11.53" lengthAdjust="spacingAndGlyphs">A</text>
<text x="40.50" y="15.8" font-size="16.0" textLength="36.96" lengthAdjust="spacingAndGlyphs">1000</text>
<text x="50.11" y="124.9" font-size="16.0" textLength="27.40" lengthAdjust="spacingAndGlyphs">100</text>
<text x="60.20" y="234.0" font-size="16.0" textLength="17.57" lengthAdjust="spacingAndGlyphs">10</text>
<text x="70.48" y="343.1" font-size="16.0" textLength="7.57" lengthAdjust="spacingAndGlyphs">1</text>
<text x="55.67" y="452.2" font-size="16.0" textLength="22.03" lengthAdjust="spacingAndGlyphs">0.1</text>
<text x="78.26" y="470.7" font-size="16.0" textLength="17.40" lengthAdjust="spacingAndGlyphs">10</text>
<text x="183.11" y="470.7" font-size="16.0" textLength="27.61" lengthAdjust="spacingAndGlyphs">100</text>
<text x="300.12" y="470.7" font-size="16.0" textLength="14.41" lengthAdjust="spacingAndGlyphs">1k</text>
<text x="403.35" y="470.7" font-size="16.0" textLength="26.41" lengthAdjust="spacingAndGlyphs">10k</text>
<text x="509.22" y="470.7" font-size="16.0" textLength="36.17" lengthAdjust="spacingAndGlyphs">100k</text>
<text x="629.00" y="470.7" font-size="16.0" textLength="18.41" lengthAdjust="spacingAndGlyphs">1M</text>
<text x="300.58" y="494.0" font-size="16.0" textLength="124.25" lengthAdjust="spacingAndGlyphs">Frequency (Hz)</text>
<g transform="translate(17.8,0) rotate(-90)"><text x="-314.67" y="0.0" font-size="16.0" textLength="170.32" lengthAdjust="spacingAndGlyphs">Output Voltage Noise</text></g>
<g transform="translate(37.6,0) rotate(-90)"><text x="-264.97" y="0.0" font-size="16.0" textLength="28.18" lengthAdjust="spacingAndGlyphs">(nV</text><text x="-221.73" y="0.0" font-size="16.0" textLength="27.00" lengthAdjust="spacingAndGlyphs">Hz)</text></g>
<g transform="translate(41.1,0) rotate(-90)"><text x="-236.0" y="0" font-size="22.4" style="stroke:#1d1a1b;stroke-width:0.9px" textLength="12.3" lengthAdjust="spacingAndGlyphs">√</text></g>
</svg>
</body></html>
